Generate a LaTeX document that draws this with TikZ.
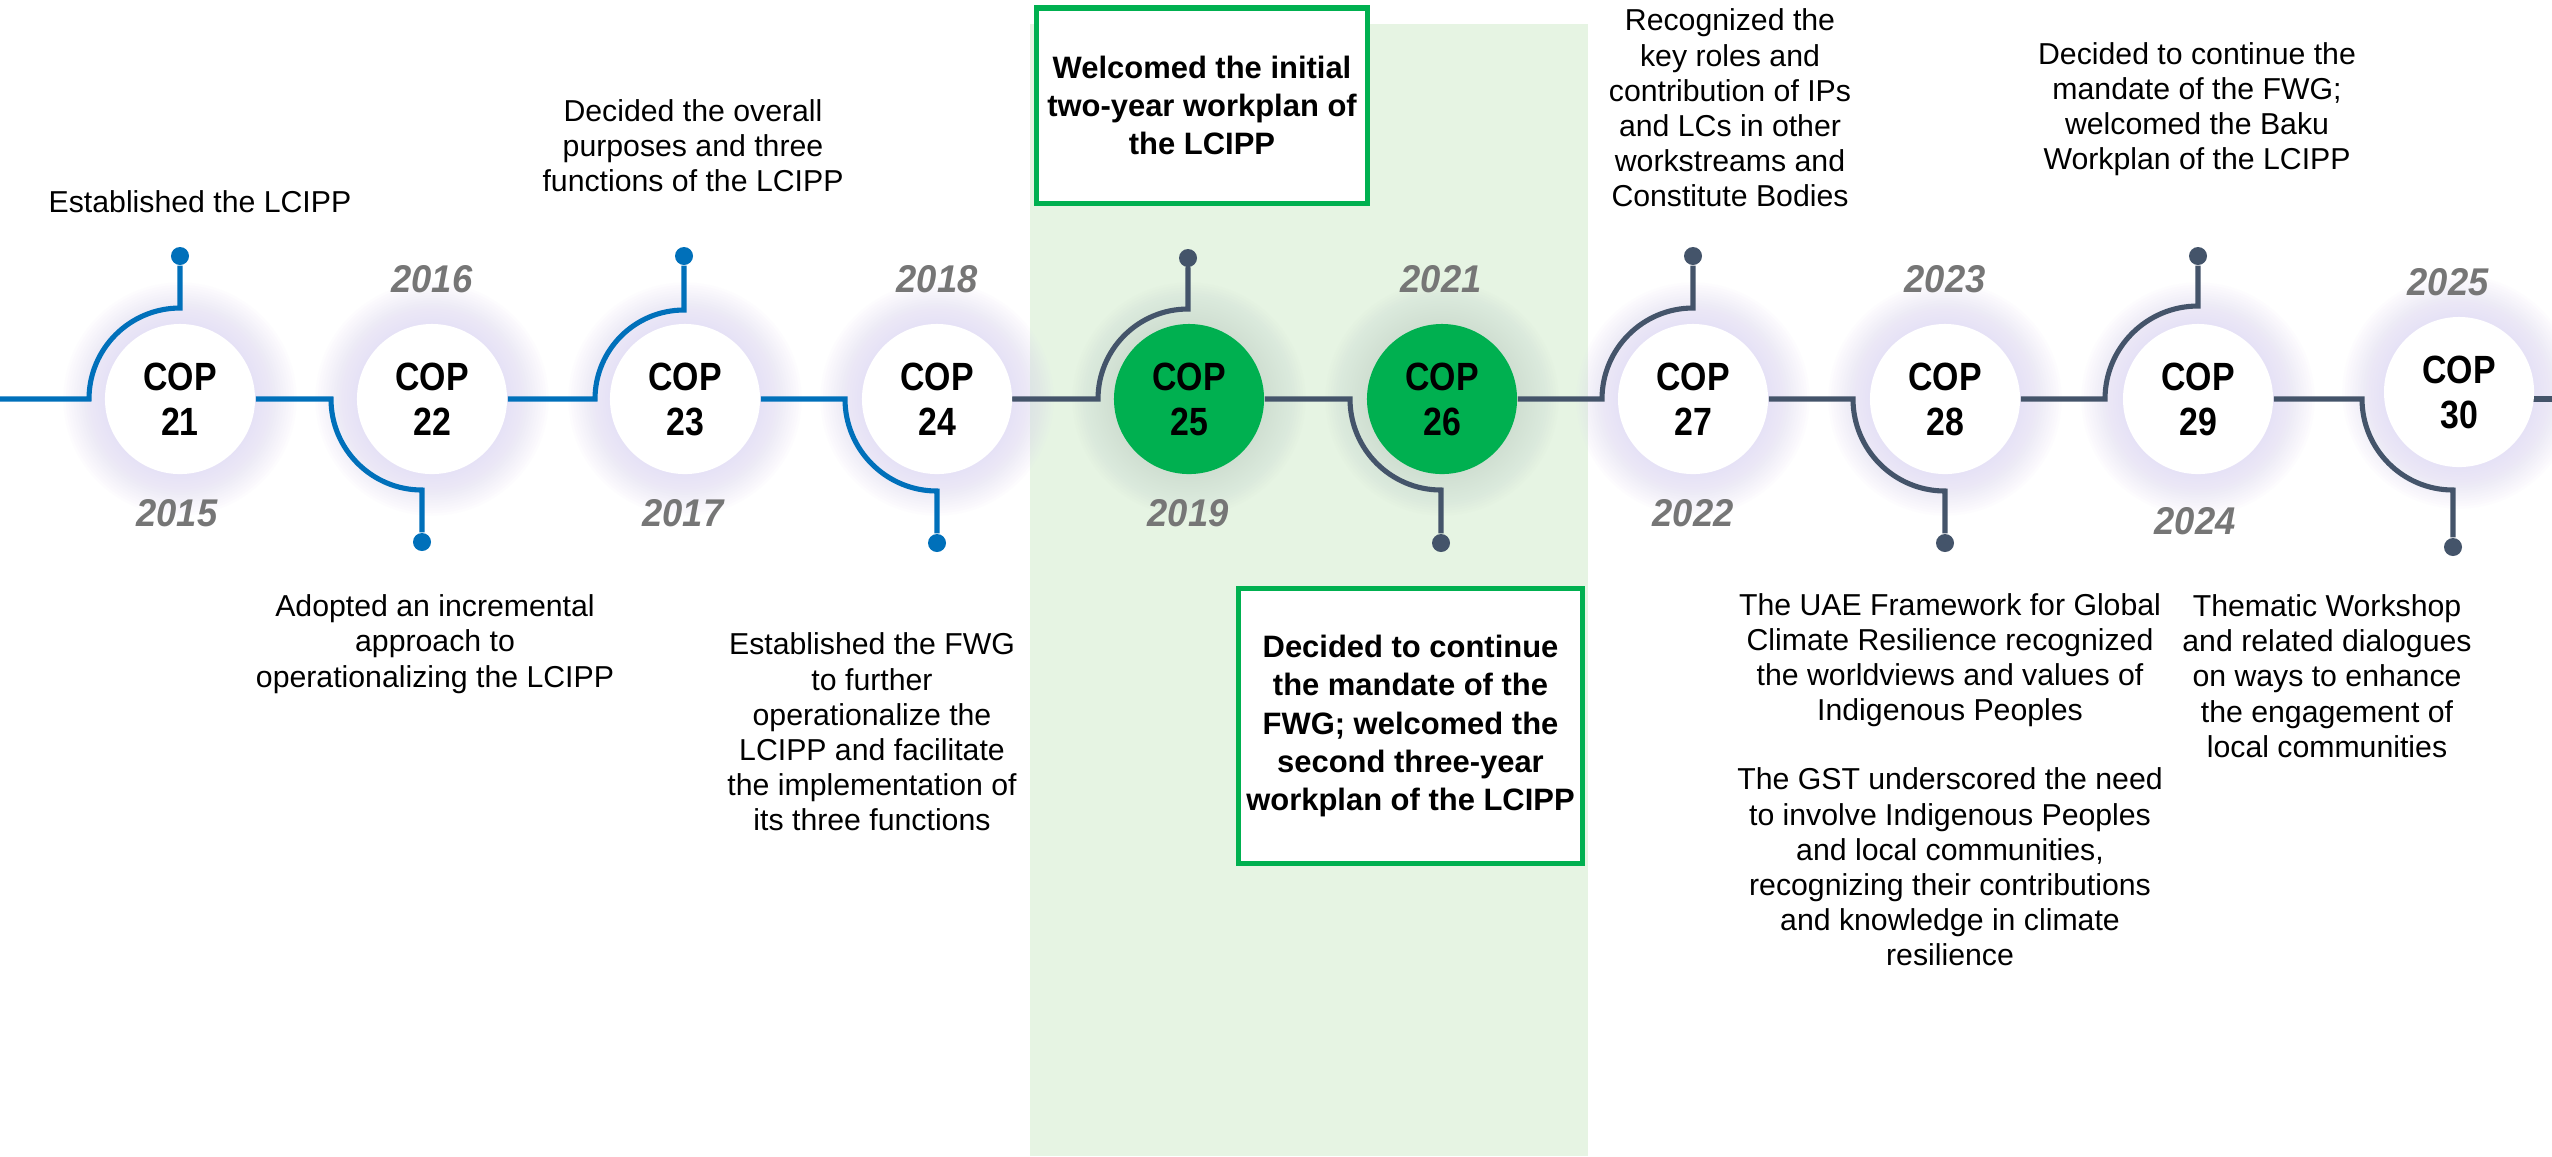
\documentclass[tikz,border=0pt]{standalone}
\usepackage{fontspec}
\setmainfont{Liberation Sans}
\newfontfamily\copfont{Liberation Sans}[FakeStretch=0.86]
\newfontfamily\yrfont{Liberation Sans}[FakeStretch=0.94]
\definecolor{cblue}{HTML}{0070BA}
\definecolor{cslate}{HTML}{44546A}
\definecolor{cgreen}{HTML}{00B050}
\definecolor{bandc}{HTML}{E6F4E3}
\definecolor{glowc}{HTML}{DCD6F6}
\definecolor{glowg}{HTML}{C9D9CF}
\definecolor{yrgray}{HTML}{767676}
\pgfdeclarelayer{back}
\pgfdeclarelayer{lines}
\pgfsetlayers{back,lines,main}
\tikzset{
  tl/.style={line width=1.45pt},
  copc/.style={circle, minimum size=1.5cm, inner sep=0pt, align=center,
    font=\copfont\bfseries\fontsize{11.2}{12.8}\selectfont, fill=white},
  copg/.style={copc, fill=cgreen},
  dotb/.style={circle, inner sep=0pt, minimum size=0.18cm, fill=cblue},
  dots/.style={dotb, fill=cslate},
  yr/.style={font=\yrfont\bfseries\itshape\fontsize{11}{12}\selectfont, text=yrgray, inner sep=0pt},
  desc/.style={align=center, font=\fontsize{8.6}{10}\selectfont, inner sep=0pt},
  gbox/.style={draw=cgreen, line width=1.45pt, fill=white, inner sep=0pt, align=center,
    font=\bfseries\fontsize{8.8}{10.9}\selectfont},
}
\begin{document}
\begin{tikzpicture}[x=0.01cm, y=-0.01cm]
\useasboundingbox (0,0) rectangle (2552,1156);
\begin{pgfonlayer}{back}
  \fill[white] (0,0) rectangle (2552,1156);
  \fill[bandc] (1030,24) rectangle (1588,1156);
  \foreach \cx/\cy in {180/399, 432/399, 685/399, 937/399, 1693/399, 1945/399, 2198/399, 2459/392}{
    \foreach \k in {1,...,16}
      \fill[glowc, opacity=0.055] (\cx,\cy) circle[radius=75+2.6*\k];
  }
  \foreach \cx/\cy in {1189/399, 1442/399}{
    \foreach \k in {1,...,16}
      \fill[glowg, opacity=0.055] (\cx,\cy) circle[radius=75+2.6*\k];
  }
\end{pgfonlayer}

% COP circles
\node[copc] (c21) at (180,399) {COP\\21};
\node[copc] (c22) at (432,399) {COP\\22};
\node[copc] (c23) at (685,399) {COP\\23};
\node[copc] (c24) at (937,399) {COP\\24};
\node[copg] (c25) at (1189,399) {COP\\25};
\node[copg] (c26) at (1442,399) {COP\\26};
\node[copc] (c27) at (1693,399) {COP\\27};
\node[copc] (c28) at (1945,399) {COP\\28};
\node[copc] (c29) at (2198,399) {COP\\29};
\node[copc] (c30) at (2459,392) {COP\\30};

% dots
\node[dotb] (d21) at (180,256) {};
\node[dotb] (d22) at (422,542) {};
\node[dotb] (d23) at (684,256) {};
\node[dotb] (d24) at (937,543) {};
\node[dots] (d25) at (1188,258) {};
\node[dots] (d26) at (1441,543) {};
\node[dots] (d27) at (1693,256) {};
\node[dots] (d28) at (1945,543) {};
\node[dots] (d29) at (2198,256) {};
\node[dots] (d30) at (2453,547) {};

\coordinate (L) at (0,399);
\coordinate (r30) at (2532,399);
\coordinate (R) at (2552,399);

\begin{pgfonlayer}{lines}
  \draw[tl, cblue] (L) -- (89,399) arc[start angle=180, end angle=270, radius=91] -- (d21);
  \draw[tl, cblue] (c21.east) -- (331,399) arc[start angle=180, end angle=90, radius=91] -- (d22);
  \draw[tl, cblue] (c22.east) -- (595,399) arc[start angle=180, end angle=270, radius=89] -- (d23);
  \draw[tl, cblue] (c23.east) -- (845,399) arc[start angle=180, end angle=90, radius=92] -- (d24);
  \draw[tl, cslate, line cap=round] (c24.east) -- (1098,399) arc[start angle=180, end angle=270, radius=90] -- (d25);
  \draw[tl, cslate] (c25.east) -- (1350,399) arc[start angle=180, end angle=90, radius=91] -- (d26);
  \draw[tl, cslate] (c26.east) -- (1602,399) arc[start angle=180, end angle=270, radius=91] -- (d27);
  \draw[tl, cslate] (c27.east) -- (1853,399) arc[start angle=180, end angle=90, radius=92] -- (d28);
  \draw[tl, cslate] (c28.east) -- (2105,399) arc[start angle=180, end angle=270, radius=93] -- (d29);
  \draw[tl, cslate] (c29.east) -- (2362,399) arc[start angle=180, end angle=90, radius=91] -- (d30);
  \draw[tl, cslate] (r30) -- (R);
\end{pgfonlayer}

% years
\node[yr] (y15) at (177,513) {2015};
\node[yr] (y16) at (432,279) {2016};
\node[yr] (y17) at (683,513) {2017};
\node[yr] (y18) at (937,279) {2018};
\node[yr] (y19) at (1188,513) {2019};
\node[yr] (y21) at (1441,279) {2021};
\node[yr] (y22) at (1693,513) {2022};
\node[yr] (y23) at (1945,279) {2023};
\node[yr] (y24) at (2195,521) {2024};
\node[yr] (y25) at (2448,282) {2025};

% descriptions
\node[desc] (tA) at (200,202) {Established the LCIPP};
\node[desc] (tB) at (693,146) {Decided the overall\\purposes and three\\functions of the LCIPP};
\node[desc] (tC) at (435,644) {Adopted an incremental\\approach to\\operationalizing the LCIPP};
\node[desc] (tD) at (872,732) {Established the FWG\\to further\\operationalize the\\LCIPP and facilitate\\the implementation of\\its three functions};
\node[desc] (tE) at (1730,108) {Recognized the\\key roles and\\contribution of IPs\\and LCs in other\\workstreams and\\Constitute Bodies};
\node[desc] (tF) at (2197,109) {Decided to continue the\\mandate of the FWG;\\welcomed the Baku\\Workplan of the LCIPP};
\node[desc] (tG1) at (1950,660) {The UAE Framework for Global\\Climate Resilience recognized\\the worldviews and values of\\Indigenous Peoples};
\node[desc] (tG2) at (1950,867) {The GST underscored the need\\to involve Indigenous Peoples\\and local communities,\\recognizing their contributions\\and knowledge in climate\\resilience};
\node[desc] (tH) at (2327,676) {Thematic Workshop\\and related dialogues\\on ways to enhance\\the engagement of\\local communities};

% green boxes
\node[gbox, minimum width=3.3cm, minimum height=1.95cm] (b1) at (1202,105.5)
  {Welcomed the initial\\two-year workplan of\\the LCIPP};
\node[gbox, minimum width=3.43cm, minimum height=2.74cm] (b2) at (1410.5,726)
  {Decided to continue\\the mandate of the\\FWG; welcomed the\\second three-year\\workplan of the LCIPP};
\end{tikzpicture}
\end{document}
